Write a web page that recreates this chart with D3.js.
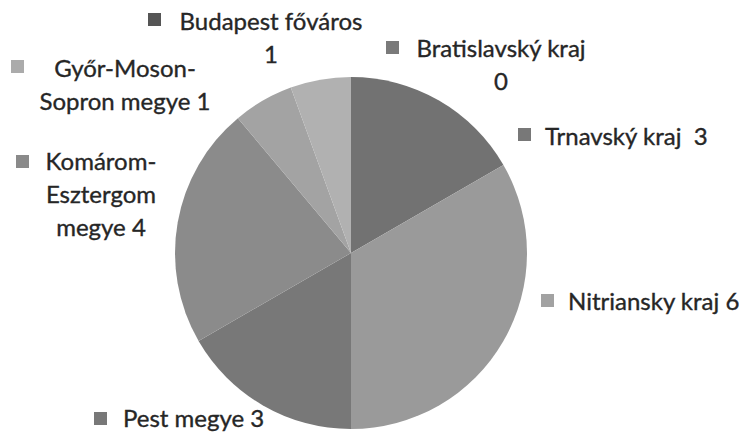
<!DOCTYPE html>
<html><head><meta charset="utf-8">
<script src="https://cdn.jsdelivr.net/npm/d3@7"></script>
<style>body{margin:0;background:#fff}svg{display:block}</style>
</head><body><svg id="c" width="746" height="436"></svg>
<script>
const categories = ["Bratislavský kraj","Trnavský kraj","Nitriansky kraj","Pest megye","Komárom-Esztergom megye","Győr-Moson-Sopron megye","Budapest főváros"];
const values = [0,3,6,3,4,1,1];
const sliceColors = ["#767676","#727272","#9a9a9a","#787878","#8b8b8b","#a3a3a3","#b1b1b1"];
const legendColors = ["#7a7a7a","#787878","#a2a2a2","#787878","#8a8a8a","#ababab","#555555"];
const labelLines = [
  ["Bratislavský kraj","0"],
  ["Trnavský kraj  3"],
  ["Nitriansky kraj 6"],
  ["Pest megye 3"],
  ["Komárom-","Esztergom","megye 4"],
  ["Győr-Moson-","Sopron megye 1"],
  ["Budapest főváros","1"]
];
const svg = d3.select("#c");
const cx = 351, cy = 253, r = 176;
const pie = d3.pie().sort(null).value(d => d)(values);
const arc = d3.arc().innerRadius(0).outerRadius(r);
svg.append("g").attr("transform",`translate(${cx},${cy})`)
  .selectAll("path").data(pie).join("path")
  .attr("d", arc).attr("fill",(d,i)=>sliceColors[i]);

const lay = [
  {x:501, y:57, a:"middle", sx:386, sy:41},
  {x:545, y:145, a:"start", sx:518, sy:128},
  {x:568, y:310, a:"start", sx:541, sy:294},
  {x:123, y:427, a:"start", sx:94, sy:412},
  {x:101, y:170, a:"middle", sx:16, sy:155},
  {x:125, y:77, a:"middle", sx:11, sy:60},
  {x:271, y:30, a:"middle", sx:148, sy:13}
];
const fontFam = "Lato, 'Open Sans', sans-serif";
const lg = svg.append("g");
categories.forEach((c,i)=>{
  const L = lay[i];
  lg.append("rect").attr("x",L.sx).attr("y",L.sy).attr("width",13).attr("height",13).attr("fill",legendColors[i]);
  const t = lg.append("text").attr("font-family",fontFam).attr("font-size",24).attr("fill","#262626")
    .attr("text-anchor",L.a).attr("stroke","#262626").attr("stroke-width",0.35);
  labelLines[i].forEach((ln,j)=>{
    t.append("tspan").attr("x",L.x).attr("y",L.y + j*33).attr("xml:space","preserve").text(ln);
  });
});
</script></body></html>
